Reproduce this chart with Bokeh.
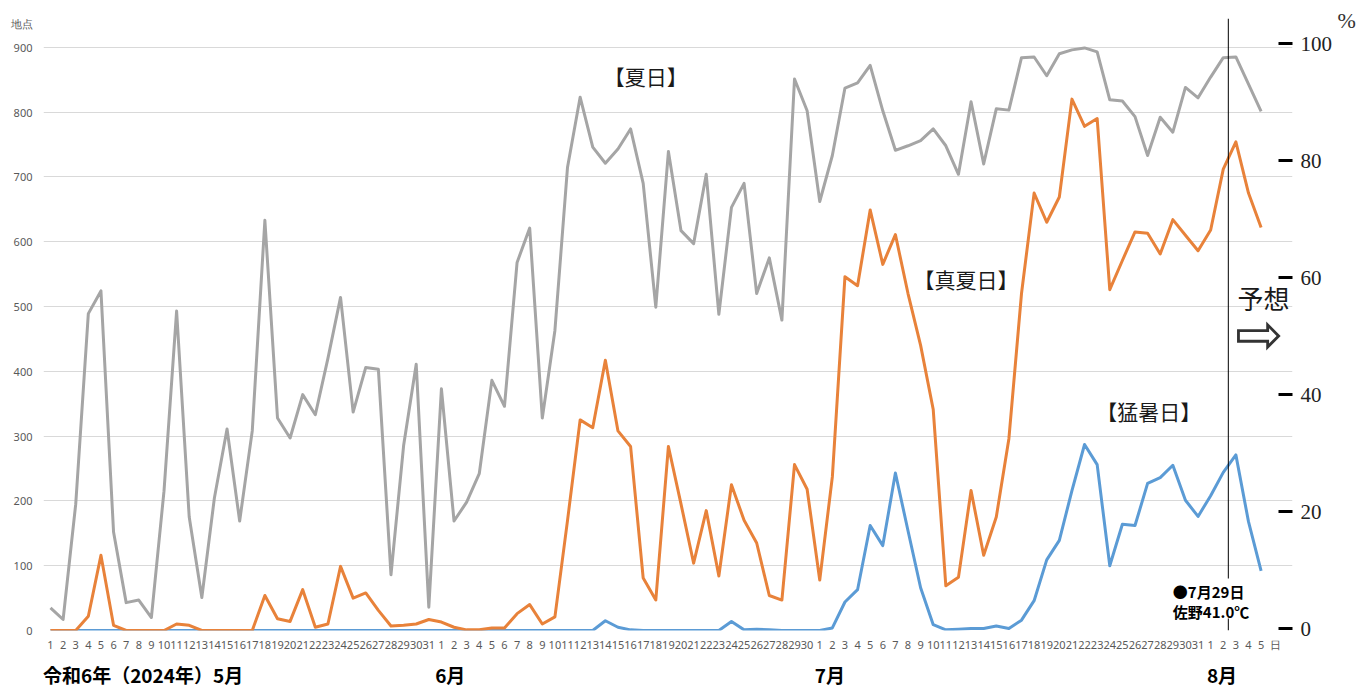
from bokeh.plotting import figure
from bokeh.models import Range1d, LinearAxis, FixedTicker, Span, Label, BoxAnnotation
from bokeh.embed import file_html
from bokeh.resources import INLINE

# ---- data -------------------------------------------------------------
may_days = list(range(1, 32))
jun_days = list(range(1, 31))
jul_days = list(range(1, 32))
aug_days = list(range(1, 6))
day_labels = [str(d) for d in may_days + jun_days + jul_days + aug_days]
month_labels = ["令和6年（2024年）5月", "6月", "7月", "8月"]

# 夏日 (gray)
natsubi = [35, 17, 195, 489, 524, 152, 43, 47, 20, 215, 493, 175, 51, 205, 311, 169, 308, 633, 328, 297,
           364, 333, 420, 514, 337, 406, 403, 86, 285, 411, 36,
           373, 169, 198, 242, 386, 346, 568, 621, 328, 463, 715, 823, 746, 721, 743, 774, 690, 499, 739,
           617, 597, 704, 488, 653, 690, 520, 575, 479, 851, 802,
           662, 733, 837, 845, 872, 802, 741, 748, 756, 774, 748, 704, 816, 720, 805, 803, 884, 885, 856,
           890, 896, 899, 893, 819, 817, 793, 733, 792, 769, 838, 822,
           854, 884, 885, 843, 801]

# 真夏日 (orange)
manatsubi = [0, 0, 0, 22, 116, 8, 0, 0, 0, 0, 10, 8, 0, 0, 0, 0, 0, 54, 18, 14,
             63, 5, 10, 99, 50, 58, 31, 7, 8, 10, 17,
             13, 5, 1, 1, 4, 4, 26, 40, 10, 21, 170, 325, 313, 417, 308, 284, 81, 47, 284,
             195, 104, 185, 84, 225, 170, 135, 54, 47, 256, 218,
             78, 237, 546, 532, 649, 565, 611, 520, 440, 341, 69, 82, 216, 116, 175, 296, 520, 675, 630,
             669, 820, 778, 790, 526, 571, 615, 613, 581, 634, 610, 586,
             618, 712, 754, 675, 622]

# 猛暑日 (blue)
moshobi = [0, 0, 0, 0, 0, 0, 0, 0, 0, 0, 0, 0, 0, 0, 0, 0, 0, 0, 0, 0,
           0, 0, 0, 0, 0, 0, 0, 0, 0, 0, 0,
           0, 0, 0, 0, 0, 0, 0, 0, 0, 0, 0, 0, 0, 15, 5, 1, 0, 0, 0,
           0, 0, 0, 0, 14, 1, 2, 1, 0, 0, 0,
           0, 4, 44, 63, 162, 131, 243, 154, 66, 9, 1, 2, 3, 3, 7, 3, 16, 46, 109,
           139, 216, 287, 256, 100, 164, 162, 227, 236, 255, 201, 176,
           208, 244, 271, 168, 92]

left_ticks = [0, 100, 200, 300, 400, 500, 600, 700, 800, 900]
right_ticks = [0, 20, 40, 60, 80, 100]

x = list(range(len(day_labels)))

# positions of text placed on axes (layout, not data)
month_pos = [7.34, 31.7, 61.8, 92.9]
day_unit_pos = 97.15     # "日"
left_unit_pos = 936.7    # "地点"
pct_unit_pos = 103.9     # "%"

# ---- figure -----------------------------------------------------------
p = figure(width=1363, height=690, output_backend="svg", toolbar_location=None,
           x_range=Range1d(-0.555, 98.49), y_range=Range1d(0, 944.4),
           min_border_left=43, min_border_right=71, min_border_top=18, min_border_bottom=60)
p.outline_line_color = None
p.background_fill_color = "white"
p.border_fill_color = "white"

# x axis (days)
p.xaxis.ticker = FixedTicker(ticks=x + [day_unit_pos])
ov = {i: lab for i, lab in enumerate(day_labels)}
ov[day_unit_pos] = "日"
p.xaxis.major_label_overrides = ov
p.xaxis.axis_line_color = None
p.xaxis.major_tick_line_color = None
p.xaxis.major_tick_out = 0
p.xaxis.major_tick_in = 0
p.xaxis.minor_tick_line_color = None
p.xaxis.minor_tick_out = 0
p.xaxis.major_label_text_font = "Noto Sans"
p.xaxis.major_label_text_font_size = "11px"
p.xaxis.major_label_text_color = "#595959"
p.xaxis.major_label_standoff = 6
p.xgrid.visible = False

# month row
mx = LinearAxis(ticker=FixedTicker(ticks=month_pos),
                major_label_overrides={pos: m for pos, m in zip(month_pos, month_labels)})
mx.axis_line_color = None
mx.major_tick_line_color = None
mx.major_tick_out = 0
mx.major_tick_in = 0
mx.minor_tick_line_color = None
mx.minor_tick_out = 0
mx.major_label_text_font = "Noto Sans CJK JP"
mx.major_label_text_font_style = "bold"
mx.major_label_text_font_size = "19px"
mx.major_label_text_color = "black"
mx.major_label_standoff = 6
p.add_layout(mx, "below")

# left axis
p.yaxis.ticker = FixedTicker(ticks=left_ticks + [left_unit_pos])
p.yaxis.major_label_overrides = {left_unit_pos: "地点"}
p.yaxis.axis_line_color = None
p.yaxis.major_tick_line_color = None
p.yaxis.major_tick_out = 0
p.yaxis.major_tick_in = 0
p.yaxis.minor_tick_line_color = None
p.yaxis.minor_tick_out = 0
p.yaxis.major_label_text_font = "Noto Sans"
p.yaxis.major_label_text_font_size = "11px"
p.yaxis.major_label_text_color = "#595959"
p.yaxis.major_label_standoff = 11
p.ygrid.ticker = FixedTicker(ticks=left_ticks)
p.ygrid.grid_line_color = "#D9D9D9"
p.ygrid.grid_line_width = 1
p.ygrid.bounds = (-0.555, 96.555)

# right axis (%)
p.extra_y_ranges = {"pct": Range1d(-0.34, 104.3)}
ax = LinearAxis(y_range_name="pct", ticker=FixedTicker(ticks=right_ticks))
ax.axis_line_color = None
ax.major_tick_in = 14
ax.major_tick_out = 0
ax.major_tick_line_width = 3
ax.major_tick_line_color = "black"
ax.minor_tick_line_color = None
ax.minor_tick_out = 0
ax.major_label_text_font = "Liberation Serif"
ax.major_label_text_font_size = "21px"
ax.major_label_text_color = "#222222"
ax.major_label_standoff = 8
p.add_layout(ax, "right")

ax2 = LinearAxis(y_range_name="pct", ticker=FixedTicker(ticks=[pct_unit_pos]),
                 major_label_overrides={pct_unit_pos: "%"})
ax2.axis_line_color = None
ax2.major_tick_line_color = None
ax2.major_tick_out = 0
ax2.major_tick_in = 0
ax2.minor_tick_line_color = None
ax2.minor_tick_out = 0
ax2.major_label_text_font = "Liberation Serif"
ax2.major_label_text_font_size = "22px"
ax2.major_label_text_color = "#333333"
ax2.major_label_standoff = 2
p.add_layout(ax2, "right")

# series
p.line(x, natsubi, line_color="#A5A5A5", line_width=3, line_join="round")
p.line(x, moshobi, line_color="#5B9BD5", line_width=3, line_join="round")
p.line(x, manatsubi, line_color="#E8823A", line_width=3, line_join="round")

# forecast divider
p.add_layout(Span(location=93.4, dimension="height", line_color="black", line_width=1))

# annotation box
p.add_layout(BoxAnnotation(left=88.66, right=96.1, bottom=18.5, top=80.2,
                           fill_color="white", fill_alpha=1.0, line_color=None))

jp = "Noto Sans CJK JP"

def lab(xv, yv, text, size, align="left", bold=False, color="#1a1a1a", font=jp):
    p.add_layout(Label(x=xv, y=yv, text=text, text_align=align, text_baseline="middle",
                       text_font=font, text_font_size=size, text_color=color,
                       text_font_style="bold" if bold else "normal"))

lab(89.0, 60.2, "●7月29日", "15px", bold=True, color="black")
lab(89.0, 29.3, "佐野41.0℃", "15px", bold=True, color="black")

lab(47.2, 855, "【夏日】", "21px", align="center")
lab(72.6, 541.7, "【真夏日】", "21px", align="center")
lab(87.1, 338, "【猛暑日】", "21px", align="center")
lab(94.13, 514, "予想", "26px")
lab(95.85, 456.8, "⇨", "58px", align="center", font="DejaVu Sans", color="#333333")

open("out.html", "w").write(file_html(p, INLINE))
